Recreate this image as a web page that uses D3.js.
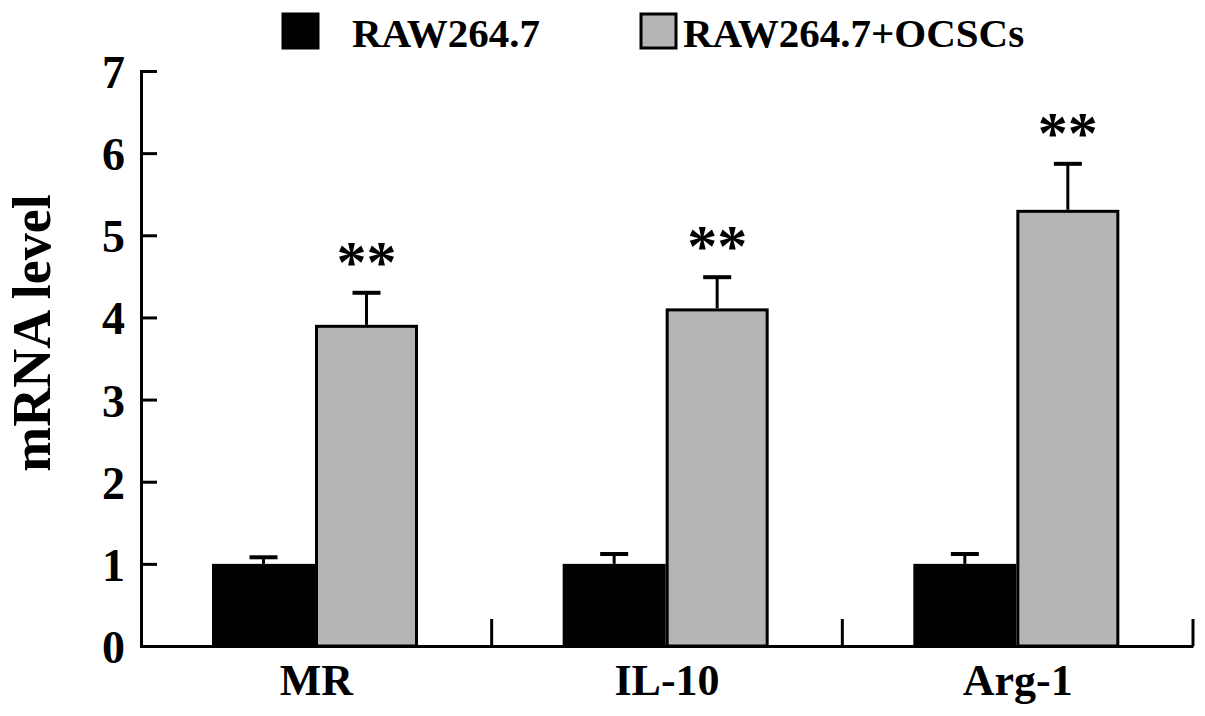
<!DOCTYPE html>
<html><head><meta charset="utf-8">
<script src="https://cdn.jsdelivr.net/npm/d3@7"></script>
<style>body{margin:0;background:#fff}svg{display:block}text{font-family:"Liberation Serif","Times New Roman",serif;font-weight:bold;fill:#000}</style>
</head><body><svg id="c" width="1205" height="716"></svg>
<script>
const categories = ["MR", "IL-10", "Arg-1"];
const seriesNames = ["RAW264.7", "RAW264.7+OCSCs"];
const controlValues = [1.0, 1.0, 1.0];
const controlErrors = [0.08, 0.12, 0.12];
const treatedValues = [3.91, 4.11, 5.31];
const treatedErrors = [0.39, 0.38, 0.56];
const significance = ["**", "**", "**"];
const yTicks = [0, 1, 2, 3, 4, 5, 6, 7];

const svg = d3.select("#c");
const m = {l: 141, r: 1193, t: 71, b: 646};
const x = d3.scaleBand().domain(categories).range([m.l, m.r]).paddingInner(0).paddingOuter(0);
const sub = d3.scaleBand().domain([0, 1]).range([71, 71 + 206]);
const y = d3.scaleLinear().domain([0, 7]).range([m.b, m.t]);
const colors = ["#000000", "#b5b5b5"];
const data = categories.map((c, i) => ({c, vals: [
  {s: 0, v: controlValues[i], e: controlErrors[i]},
  {s: 1, v: treatedValues[i], e: treatedErrors[i]}], sig: significance[i]}));

// y axis
const yAxis = svg.append("g").attr("transform", `translate(${m.l},0)`)
  .call(d3.axisLeft(y).tickValues(yTicks).tickSize(-16).tickPadding(16).tickFormat(d3.format("d")));
yAxis.select(".domain").attr("stroke", "#000").attr("stroke-width", 3);
yAxis.selectAll(".tick line").attr("stroke", "#000").attr("stroke-width", 3);
yAxis.selectAll(".tick text").attr("font-size", 46).attr("dy", "0.36em");

// x axis
const xAxis = svg.append("g").attr("transform", `translate(0,${m.b})`)
  .call(d3.axisBottom(x).tickSize(0).tickPadding(0));
xAxis.select(".domain").attr("stroke", "#000").attr("stroke-width", 3);
xAxis.selectAll(".tick text").attr("font-size", 44).attr("y", 49).attr("dy", 0);
// boundary ticks (pointing up)
svg.append("g").selectAll("line").data(categories.map(c => x(c) + x.bandwidth())).join("line")
  .attr("x1", d => d).attr("x2", d => d).attr("y1", m.b).attr("y2", m.b - 27)
  .attr("stroke", "#000").attr("stroke-width", 3);

// bars
const g = svg.append("g").selectAll("g").data(data).join("g")
  .attr("transform", d => `translate(${x(d.c)},0)`);
g.selectAll("rect").data(d => d.vals).join("rect")
  .attr("x", d => sub(d.s) + (d.s ? 1.5 : 0))
  .attr("width", d => sub.bandwidth() - (d.s ? 3 : 0))
  .attr("y", d => y(d.v) + (d.s ? 1.5 : 0))
  .attr("height", d => y(0) - y(d.v) - (d.s ? 1.5 : 0))
  .attr("fill", d => colors[d.s])
  .attr("stroke", d => d.s ? "#000" : "none").attr("stroke-width", 3);
// error bars
const eb = g.selectAll("g.eb").data(d => d.vals).join("g").attr("class", "eb");
eb.append("line")
  .attr("x1", d => sub(d.s) + sub.bandwidth() / 2).attr("x2", d => sub(d.s) + sub.bandwidth() / 2)
  .attr("y1", d => y(d.v)).attr("y2", d => y(d.v + d.e))
  .attr("stroke", "#000").attr("stroke-width", 3);
eb.append("line")
  .attr("x1", d => sub(d.s) + sub.bandwidth() / 2 - 14).attr("x2", d => sub(d.s) + sub.bandwidth() / 2 + 14)
  .attr("y1", d => y(d.v + d.e)).attr("y2", d => y(d.v + d.e))
  .attr("stroke", "#000").attr("stroke-width", 4);
// significance
g.append("text").attr("text-anchor", "middle")
  .attr("x", sub(1) + sub.bandwidth() / 2)
  .attr("y", d => y(d.vals[1].v + d.vals[1].e) - 11)
  .attr("font-family", "'DejaVu Sans',sans-serif")
  .attr("font-size", 60).text(d => d.sig);

// y title
svg.append("text").attr("transform", `translate(50,333) rotate(-90)`)
  .attr("text-anchor", "middle").attr("font-size", 54).text("mRNA level");

// legend
const lg = svg.append("g");
const legendItems = [{name: seriesNames[0], sx: 283, tx: 352}, {name: seriesNames[1], sx: 641, tx: 683}];
lg.selectAll("rect").data(legendItems).join("rect")
  .attr("x", d => d.sx).attr("y", 14).attr("width", 35).attr("height", 34)
  .attr("fill", (d, i) => colors[i]).attr("stroke", "#000").attr("stroke-width", 3);
lg.selectAll("text").data(legendItems).join("text")
  .attr("x", d => d.tx).attr("y", 47).attr("font-size", 41).text(d => d.name);
</script></body></html>
